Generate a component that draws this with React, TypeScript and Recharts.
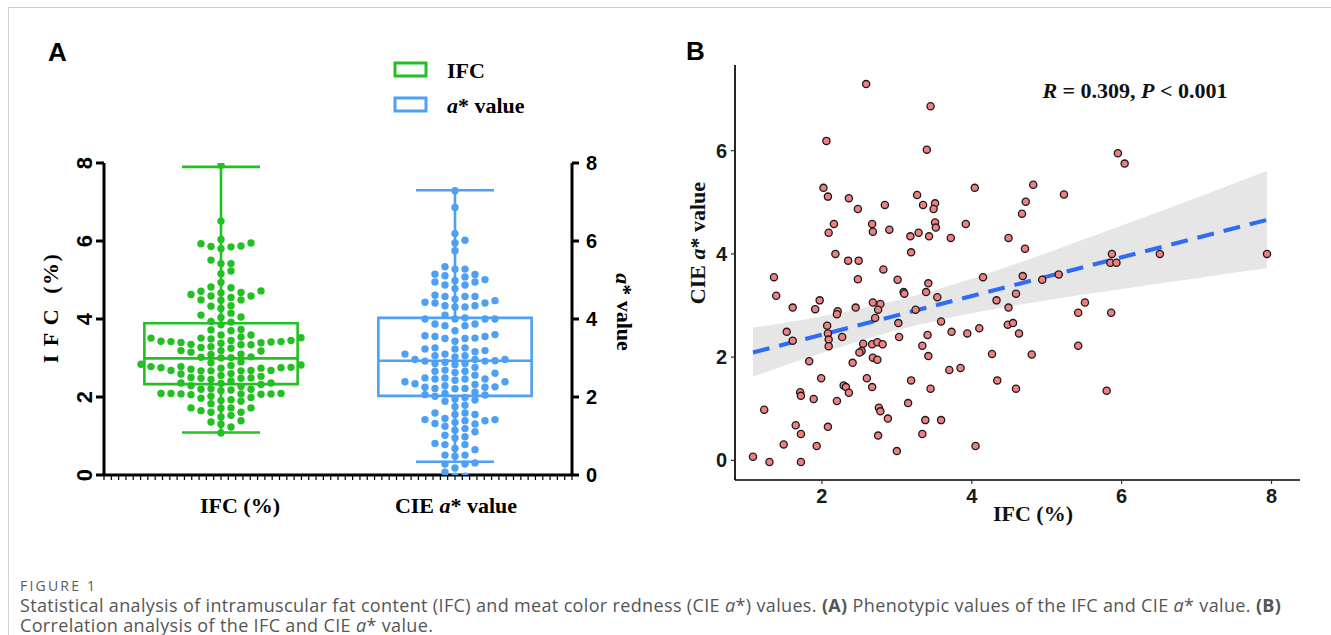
import {
  Area,
  ComposedChart,
  Line,
  ReferenceArea,
  ReferenceLine,
  Scatter,
  XAxis,
  YAxis,
} from "recharts";

const ifc = [
  2.59, 3.45, 2.06, 3.4, 2.02, 2.08, 4.04, 2.36, 2.48, 2.84, 3.27, 3.35, 3.51, 3.49, 2.16, 2.09,
  2.67, 2.68, 2.9, 3.51, 3.52, 3.18, 3.29, 3.43, 3.92, 3.72, 2.18, 3.19, 2.35, 2.49, 2.82, 1.36,
  2.48, 3.01, 4.15, 5.95, 6.04, 4.82, 5.23, 4.72, 4.67, 4.49, 4.71, 5.87, 5.85, 5.93, 6.51, 7.94,
  4.68, 5.16, 1.39, 3.09, 3.1, 3.42, 3.39, 3.54, 4.33, 1.61, 1.97, 1.91, 2.21, 2.2, 2.45, 2.68,
  2.78, 2.75, 3.25, 2.71, 3.02, 3.59, 1.53, 2.07, 2.27, 2.08, 2.09, 2.09, 1.61, 3.03, 3.41, 3.73,
  3.94, 4.1, 2.55, 2.53, 2.5, 2.67, 2.74, 2.81, 3.34, 3.42, 2.68, 2.74, 1.83, 2.41, 4.27, 3.7,
  3.85, 1.99, 2.6, 2.67, 3.19, 3.45, 4.34, 2.29, 2.32, 2.36, 1.71, 1.72, 1.89, 2.2, 3.15, 1.23,
  2.76, 2.78, 2.88, 3.38, 3.59, 1.65, 2.08, 1.72, 2.75, 3.34, 1.49, 1.93, 3.0, 4.05, 1.08, 1.3,
  1.72, 4.94, 4.59, 4.49, 4.48, 4.55, 4.63, 5.51, 5.42, 5.86, 5.42, 4.8, 4.59, 5.8,
];
const aValue = [
  7.29, 6.86, 6.19, 6.02, 5.28, 5.11, 5.28, 5.08, 4.87, 4.95, 5.14, 4.95, 4.98, 4.87, 4.58, 4.41,
  4.58, 4.43, 4.47, 4.61, 4.51, 4.34, 4.41, 4.34, 4.58, 4.31, 4.0, 4.03, 3.87, 3.87, 3.7, 3.55,
  3.51, 3.5, 3.55, 5.95, 5.75, 5.34, 5.15, 5.01, 4.78, 4.31, 4.1, 4.0, 3.83, 3.83, 4.0, 4.0,
  3.57, 3.6, 3.19, 3.26, 3.23, 3.43, 3.26, 3.16, 3.1, 2.96, 3.1, 2.93, 2.89, 2.83, 2.96, 3.06,
  3.03, 2.92, 2.92, 2.76, 2.66, 2.69, 2.49, 2.61, 2.39, 2.46, 2.34, 2.21, 2.32, 2.39, 2.43, 2.49,
  2.46, 2.56, 2.26, 2.12, 2.09, 2.25, 2.29, 2.25, 2.22, 2.02, 1.99, 1.95, 1.92, 1.89, 2.06, 1.75,
  1.79, 1.59, 1.59, 1.42, 1.55, 1.39, 1.55, 1.45, 1.42, 1.31, 1.32, 1.25, 1.19, 1.15, 1.11, 0.98,
  1.02, 0.95, 0.81, 0.78, 0.78, 0.68, 0.65, 0.51, 0.48, 0.51, 0.31, 0.28, 0.18, 0.28, 0.07, -0.03,
  -0.03, 3.5, 3.23, 2.96, 2.63, 2.66, 2.46, 3.06, 2.86, 2.86, 2.22, 2.05, 1.39, 1.35,
];

// box plot summary (panel A)
const boxPos = [1, 3];
const boxMin = [1.09, 0.34];
const boxQ1 = [2.33, 2.03];
const boxMedian = [2.99, 2.93];
const boxQ3 = [3.89, 4.03];
const boxMax = [7.9, 7.3];

// fitted line and confidence band (panel B)
const fitX = [1.08, 2, 3, 4, 5, 6, 7, 7.94];
const fitY = [2.09, 2.435, 2.81, 3.185, 3.56, 3.935, 4.31, 4.66];
const bandLow = [1.62, 2.08, 2.52, 2.85, 3.1, 3.32, 3.53, 3.72];
const bandHigh = [2.57, 2.79, 3.1, 3.52, 4.02, 4.55, 5.09, 5.61];

const aTicks = [0, 2, 4, 6, 8];
const bTicksX = [2, 4, 6, 8];
const bTicksY = [0, 2, 4, 6];

const GREEN = "#22C022";
const BLUE = "#4DA0F3";
const SERIF = "'Liberation Serif', 'Times New Roman', serif";
const SANS = "'Liberation Sans', Arial, sans-serif";
const CAPTION = "'Open Sans', 'Noto Sans', sans-serif";

const PX_X = 117; // panel A px per x unit
const PX_Y = 39; // panel A px per y unit
const COL_W = 10;
const DOT_GAP = 7.4;

const minorTicks = Array.from({ length: 65 }, (_, i) => i / 16);

function swarm(values: number[], center: number) {
  const sorted = [...values].sort((a, b) => a - b);
  const placed: { col: number; py: number }[] = [];
  return sorted.map((v) => {
    const py = v * PX_Y;
    let col = 0;
    for (let i = 0; i < 60; i++) {
      const c = i === 0 ? 0 : i % 2 ? (i + 1) / 2 : -i / 2;
      if (!placed.some((p) => p.col === c && Math.abs(p.py - py) < DOT_GAP)) {
        col = c;
        break;
      }
    }
    placed.push({ col, py });
    return { x: center + (col * COL_W) / PX_X, y: v };
  });
}

const dot = (fill: string) => (p: any) => (
  <circle cx={p.cx} cy={p.cy} r={3.7} fill={fill} />
);

const pinkDot = (p: any) => (
  <circle cx={p.cx} cy={p.cy} r={3.6} fill="#F08080" stroke="#1a1a1a" strokeWidth={1.3} />
);

function CategoryTick(props: any) {
  const { x, y, payload } = props;
  const idx = boxPos.indexOf(payload.value);
  return (
    <g>
      <line x1={x} x2={x} y1={y + 1} y2={y + 5} stroke="#000" strokeWidth={1.2} />
      {idx === 0 && (
        <text x={x + 19} y={y + 38} textAnchor="middle" fontFamily={SERIF} fontWeight={700} fontSize={22} fill="#000">
          IFC (%)
        </text>
      )}
      {idx === 1 && (
        <text x={x + 1} y={y + 38} textAnchor="middle" fontFamily={SERIF} fontWeight={700} fontSize={22} fill="#000">
          CIE <tspan fontStyle="italic">a</tspan>* value
        </text>
      )}
    </g>
  );
}

function RotatedTick(props: any) {
  const { x, y, payload } = props;
  return (
    <text
      transform={`translate(${x - 12},${y}) rotate(-90)`}
      textAnchor="middle"
      dominantBaseline="central"
      fontFamily={SANS}
      fontWeight={700}
      fontSize={22}
      fill="#000"
    >
      {payload.value}
    </text>
  );
}

function PanelA() {
  const green = swarm(ifc, boxPos[0]);
  const blue = swarm(aValue, boxPos[1]);
  const colors = [GREEN, BLUE];
  return (
    <ComposedChart width={680} height={540} margin={{ top: 163, right: 0, bottom: 0, left: 0 }}>
      <XAxis
        xAxisId="x"
        type="number"
        dataKey="x"
        domain={[0, 4]}
        ticks={minorTicks}
        interval={0}
        tickSize={0}
        tickMargin={0}
        tickLine={false}
        tick={<CategoryTick />}
        axisLine={{ stroke: "#000", strokeWidth: 3 }}
        height={65}
        allowDataOverflow
      />
      <YAxis
        yAxisId="l"
        type="number"
        domain={[0, 8]}
        ticks={aTicks}
        width={104}
        tickSize={8}
        tickMargin={0}
        tick={<RotatedTick />}
        axisLine={{ stroke: "#000", strokeWidth: 3 }}
        tickLine={{ stroke: "#000", strokeWidth: 3 }}
        allowDataOverflow
      />
      <YAxis
        yAxisId="r"
        orientation="right"
        type="number"
        domain={[0, 8]}
        ticks={aTicks}
        width={108}
        tickSize={7}
        tickMargin={7}
        tick={{ fill: "#000", fontSize: 20, fontWeight: 700, fontFamily: SANS }}
        axisLine={{ stroke: "#000", strokeWidth: 3 }}
        tickLine={{ stroke: "#000", strokeWidth: 3 }}
        allowDataOverflow
      />
      {boxPos.map((c, i) => (
        <ReferenceArea
          key={`box${i}`}
          xAxisId="x"
          yAxisId="l"
          x1={c - 0.655}
          x2={c + 0.655}
          y1={boxQ1[i]}
          y2={boxQ3[i]}
          fill="none"
          fillOpacity={0}
          stroke={colors[i]}
          strokeWidth={2.6}
        />
      ))}
      {boxPos.map((c, i) => (
        <ReferenceLine
          key={`med${i}`}
          xAxisId="x"
          yAxisId="l"
          segment={[
            { x: c - 0.655, y: boxMedian[i] },
            { x: c + 0.655, y: boxMedian[i] },
          ]}
          stroke={colors[i]}
          strokeWidth={2.6}
        />
      ))}
      {boxPos.map((c, i) => (
        <ReferenceLine
          key={`wlo${i}`}
          xAxisId="x"
          yAxisId="l"
          segment={[
            { x: c, y: boxMin[i] },
            { x: c, y: boxQ1[i] },
          ]}
          stroke={colors[i]}
          strokeWidth={2.6}
        />
      ))}
      {boxPos.map((c, i) => (
        <ReferenceLine
          key={`whi${i}`}
          xAxisId="x"
          yAxisId="l"
          segment={[
            { x: c, y: boxQ3[i] },
            { x: c, y: boxMax[i] },
          ]}
          stroke={colors[i]}
          strokeWidth={2.6}
        />
      ))}
      {boxPos.map((c, i) => (
        <ReferenceLine
          key={`cmin${i}`}
          xAxisId="x"
          yAxisId="l"
          segment={[
            { x: c - 0.333, y: boxMin[i] },
            { x: c + 0.333, y: boxMin[i] },
          ]}
          stroke={colors[i]}
          strokeWidth={2.6}
        />
      ))}
      {boxPos.map((c, i) => (
        <ReferenceLine
          key={`cmax${i}`}
          xAxisId="x"
          yAxisId="l"
          segment={[
            { x: c - 0.333, y: boxMax[i] },
            { x: c + 0.333, y: boxMax[i] },
          ]}
          stroke={colors[i]}
          strokeWidth={2.6}
        />
      ))}
      <Scatter xAxisId="x" yAxisId="l" data={green} dataKey="y" shape={dot(GREEN)} isAnimationActive={false} />
      <Scatter xAxisId="x" yAxisId="l" data={blue} dataKey="y" shape={dot(BLUE)} isAnimationActive={false} />
    </ComposedChart>
  );
}

function PanelB() {
  const rows = fitX.map((x, i) => ({ x, band: [bandLow[i], bandHigh[i]], fit: fitY[i] }));
  const pts = ifc.map((x, i) => ({ x, y: aValue[i] }));
  const tickStyle = { fill: "#1a1a1a", fontSize: 20, fontWeight: 700, fontFamily: SANS };
  return (
    <ComposedChart width={651} height={540} data={rows} margin={{ top: 65, right: 31, bottom: 0, left: 0 }}>
      <XAxis
        type="number"
        dataKey="x"
        domain={[0.84, 8.38]}
        ticks={bTicksX}
        height={60}
        tickSize={4}
        tickMargin={5}
        tick={tickStyle}
        axisLine={{ stroke: "#000", strokeWidth: 1.7 }}
        tickLine={{ stroke: "#333", strokeWidth: 1.2 }}
        allowDataOverflow
      />
      <YAxis
        type="number"
        domain={[-0.38, 7.66]}
        ticks={bTicksY}
        width={55}
        tickSize={4}
        tickMargin={4}
        tick={tickStyle}
        axisLine={{ stroke: "#000", strokeWidth: 1.7 }}
        tickLine={{ stroke: "#333", strokeWidth: 1.2 }}
        allowDataOverflow
      />
      <Area
        dataKey="band"
        type="monotone"
        stroke="none"
        fill="#E6E6E6"
        fillOpacity={1}
        isAnimationActive={false}
        activeDot={false}
      />
      <Line
        dataKey="fit"
        type="linear"
        stroke="#2F6BF6"
        strokeWidth={4}
        strokeDasharray="17 10"
        dot={false}
        activeDot={false}
        isAnimationActive={false}
      />
      <Scatter data={pts} dataKey="y" shape={pinkDot} isAnimationActive={false} />
    </ComposedChart>
  );
}

export default function App() {
  const captionLine = {
    position: "absolute" as const,
    left: 20,
    whiteSpace: "nowrap" as const,
    fontFamily: CAPTION,
    fontSize: 18,
    lineHeight: "20px",
    letterSpacing: 0.35,
    color: "#555",
  };
  return (
    <div style={{ position: "absolute", left: 0, top: 0, width: 1331, height: 635, overflow: "hidden", background: "#fff" }}>
      <div
        style={{
          position: "absolute",
          left: 8,
          top: 7,
          width: 1400,
          height: 700,
          borderTop: "1px solid #cfcfcf",
          borderLeft: "1px solid #d4d4d4",
        }}
      />
      <div style={{ position: "absolute", left: 0, top: 0 }}>
        <PanelA />
      </div>
      <div style={{ position: "absolute", left: 680, top: 0 }}>
        <PanelB />
      </div>
      <svg width={1331} height={560} style={{ position: "absolute", left: 0, top: 0, pointerEvents: "none" }}>
        <text x={48} y={61} fontFamily={SANS} fontWeight={700} fontSize={26} fill="#000">A</text>
        <text x={686} y={60} fontFamily={SANS} fontWeight={700} fontSize={26} fill="#000">B</text>
        <text
          transform="translate(50,308) rotate(-90)"
          textAnchor="middle"
          dominantBaseline="central"
          fontFamily={SERIF}
          fontWeight={700}
          fontSize={22}
          letterSpacing={1.5}
          style={{ whiteSpace: "pre" }}
        >
          {"I F C  (%)"}
        </text>
        <text
          transform="translate(624,312) rotate(90)"
          textAnchor="middle"
          dominantBaseline="central"
          fontFamily={SERIF}
          fontWeight={700}
          fontSize={22}
        >
          <tspan fontStyle="italic">a</tspan>* value
        </text>
        <rect x={395} y={63} width={31} height={13} fill="none" stroke={GREEN} strokeWidth={3} />
        <text x={447} y={78} fontFamily={SERIF} fontWeight={700} fontSize={22}>IFC</text>
        <rect x={395} y={98} width={31} height={13} fill="none" stroke={BLUE} strokeWidth={3} />
        <text x={447} y={113} fontFamily={SERIF} fontWeight={700} fontSize={22}>
          <tspan fontStyle="italic">a</tspan>* value
        </text>
        <text
          transform="translate(697,243) rotate(-90)"
          textAnchor="middle"
          dominantBaseline="central"
          fontFamily={SERIF}
          fontWeight={700}
          fontSize={22}
          fill="#111"
        >
          CIE <tspan fontStyle="italic">a</tspan>* value
        </text>
        <text x={1033} y={521} textAnchor="middle" fontFamily={SERIF} fontWeight={700} fontSize={22} fill="#111">
          IFC (%)
        </text>
        <text x={1135} y={98} textAnchor="middle" fontFamily={SERIF} fontWeight={700} fontSize={22} fill="#111">
          <tspan fontStyle="italic">R</tspan> = 0.309, <tspan fontStyle="italic">P</tspan> {"< 0.001"}
        </text>
      </svg>
      <div
        style={{
          position: "absolute",
          left: 20,
          top: 578,
          fontFamily: CAPTION,
          fontSize: 14,
          lineHeight: "15px",
          color: "#5a5a5a",
          letterSpacing: 2.2,
        }}
      >
        FIGURE 1
      </div>
      <div style={{ ...captionLine, top: 595 }}>
        Statistical analysis of intramuscular fat content (IFC) and meat color redness (CIE <i>a</i>*) values.{" "}
        <b>(A)</b> Phenotypic values of the IFC and CIE <i>a</i>* value. <b>(B)</b>
      </div>
      <div style={{ ...captionLine, top: 615 }}>
        Correlation analysis of the IFC and CIE <i>a</i>* value.
      </div>
    </div>
  );
}
